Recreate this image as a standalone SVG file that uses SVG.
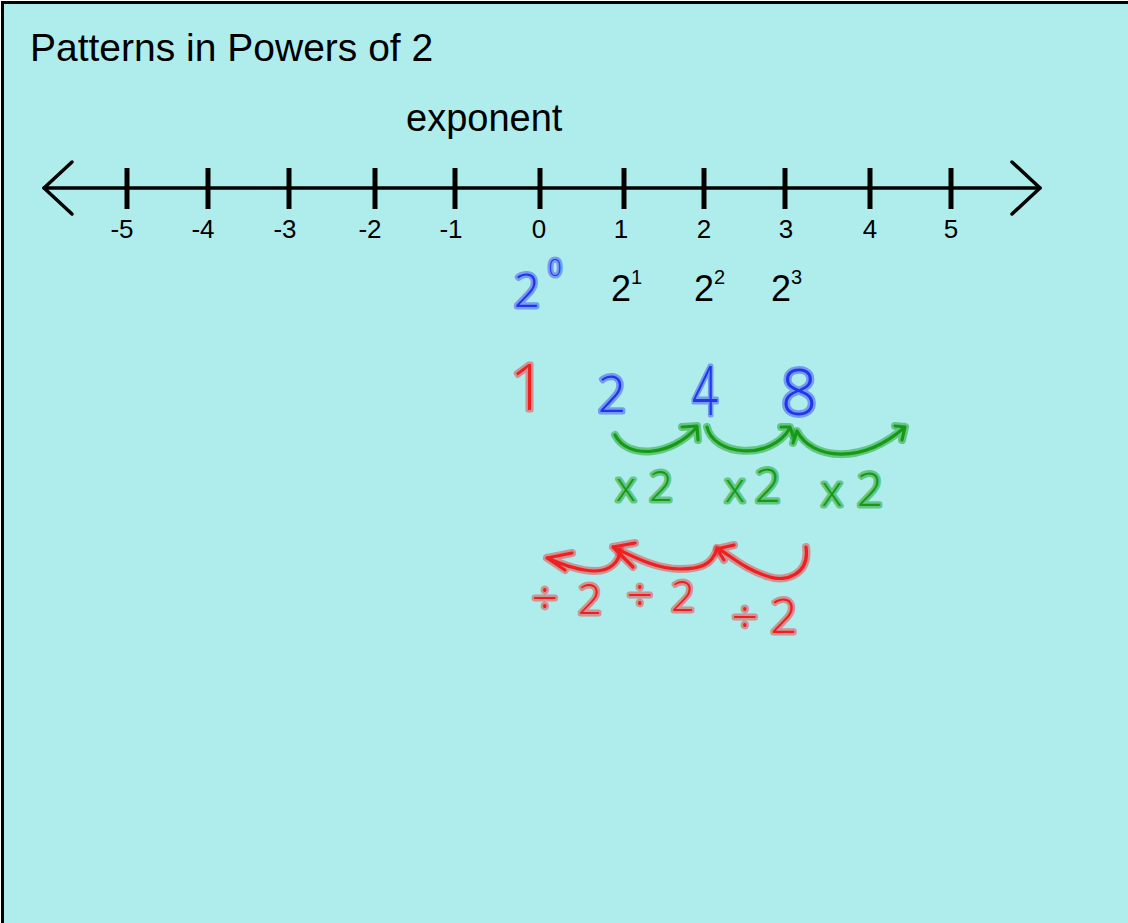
<svg xmlns="http://www.w3.org/2000/svg" width="1128" height="923" viewBox="0 0 1128 923">
<defs>
<style>
.txt{font-family:"Liberation Sans",Arial,sans-serif;fill:#000}
.axis{stroke:#000;stroke-width:3.5;fill:none;stroke-linecap:round;stroke-linejoin:round}
.tick{stroke:#000;stroke-width:5}
.lbl{font-family:"Liberation Sans",Arial,sans-serif;font-size:26px;text-anchor:middle;fill:#000}
.hw{font-family:"Open Sans","DejaVu Sans",sans-serif;font-weight:300;text-anchor:middle;paint-order:stroke;stroke-linejoin:round;stroke-linecap:round}
.hb{fill:#2433ee;stroke:rgba(40,60,240,0.45);stroke-width:5}
.hr{fill:#f01e1e;stroke:rgba(240,40,40,0.45);stroke-width:5}
.hg{fill:#169a16;stroke:rgba(25,160,25,0.5);stroke-width:5}
.halo{fill:none;stroke-width:8;stroke-linecap:round;stroke-linejoin:round}
.core{fill:none;stroke-width:3.2;stroke-linecap:round;stroke-linejoin:round}
.g .halo{stroke:rgba(25,160,25,0.5)}
.g .core{stroke:#169a16}
.r .halo{stroke:rgba(240,40,40,0.45)}
.r .core{stroke:#f01e1e}
</style>
<path id="ga1" d="M615,435 C628,460 672,456 697,427 M682,427 L697,426 L698,440"/>
<path id="ga2" d="M707,427 C713,455 770,462 790,428 M781,427 L790,427 L793,436"/>
<path id="ga3" d="M793,443 L797,431 C812,460 862,465 905,427 M895,426 L905,427 L902,440"/>
<path id="ra1" d="M806,547 C810,575 785,582 770,577 C745,570 730,555 717,548 M734,545 L717,549 L724,560"/>
<path id="ra2" d="M717,549 C712,565 700,569 680,569 C655,569 630,555 613,547 M635,543 L613,547 L633,567"/>
<path id="ra3" d="M620,549 C620,562 610,571 595,571 C578,571 560,563 547,558 M572,553 L547,558 L565,570"/>
</defs>
<rect x="2.5" y="2.5" width="1140" height="940" fill="#afeded" stroke="#000" stroke-width="3"/>

<g id="title"><text class="txt" x="30" y="61" font-size="39">Patterns in Powers of 2</text></g>
<g id="exponent-label"><text class="txt" x="406" y="131" font-size="38">exponent</text></g>

<g id="number-line">
<line class="axis" x1="44" y1="188" x2="1040" y2="188"/>
<polyline class="axis" points="72,162 44,188 72,214"/>
<polyline class="axis" points="1012,162 1040,188 1012,214"/>
<g class="tick">
<line x1="127" y1="168" x2="127" y2="209"/>
<line x1="208" y1="168" x2="208" y2="209"/>
<line x1="289" y1="168" x2="289" y2="209"/>
<line x1="375" y1="168" x2="375" y2="209"/>
<line x1="455" y1="168" x2="455" y2="209"/>
<line x1="540" y1="168" x2="540" y2="209"/>
<line x1="624" y1="168" x2="624" y2="209"/>
<line x1="704" y1="168" x2="704" y2="209"/>
<line x1="785" y1="168" x2="785" y2="209"/>
<line x1="870" y1="168" x2="870" y2="209"/>
<line x1="951" y1="168" x2="951" y2="209"/>
</g>
<text class="lbl" x="122" y="238">-5</text>
<text class="lbl" x="203" y="238">-4</text>
<text class="lbl" x="285" y="238">-3</text>
<text class="lbl" x="370" y="238">-2</text>
<text class="lbl" x="451" y="238">-1</text>
<text class="lbl" x="539" y="238">0</text>
<text class="lbl" x="621" y="238">1</text>
<text class="lbl" x="704" y="238">2</text>
<text class="lbl" x="786" y="238">3</text>
<text class="lbl" x="870" y="238">4</text>
<text class="lbl" x="951" y="238">5</text>
</g>

<g id="power-0"><text class="hw hb" x="527" y="307" font-size="46">2</text><text class="hw hb" x="555" y="276" font-size="23">0</text></g>
<g id="power-1"><text class="txt" x="611" y="301" font-size="36">2<tspan font-size="20" dy="-17">1</tspan></text></g>
<g id="power-2"><text class="txt" x="694" y="301" font-size="36">2<tspan font-size="20" dy="-17">2</tspan></text></g>
<g id="power-3"><text class="txt" x="771" y="301" font-size="36">2<tspan font-size="20" dy="-17">3</tspan></text></g>

<g id="value-1"><text class="hw hr" x="528" y="410" font-size="64">1</text></g>
<g id="value-2"><text class="hw hb" x="612" y="412" font-size="50">2</text></g>
<g id="value-4"><text class="hw hb" x="692" y="415" font-size="68" textLength="26" lengthAdjust="spacingAndGlyphs" style="text-anchor:start">4</text></g>
<g id="value-8"><text class="hw hb" x="799" y="415" font-size="64">8</text></g>

<g id="connectors">
<g class="g"><use href="#ga1" class="halo"/><use href="#ga1" class="core"/><use href="#ga2" class="halo"/><use href="#ga2" class="core"/><use href="#ga3" class="halo"/><use href="#ga3" class="core"/></g>
<g class="r"><use href="#ra1" class="halo"/><use href="#ra1" class="core"/><use href="#ra2" class="halo"/><use href="#ra2" class="core"/><use href="#ra3" class="halo"/><use href="#ra3" class="core"/></g>
</g>

<g id="times-labels">
<text class="hw hg" y="501"><tspan x="626" font-size="40">x</tspan><tspan x="661" font-size="42">2</tspan></text>
<text class="hw hg" y="502"><tspan x="735" font-size="40">x</tspan><tspan x="768" font-size="46">2</tspan></text>
<text class="hw hg" y="506"><tspan x="832" font-size="42">x</tspan><tspan x="870" font-size="46">2</tspan></text>
</g>
<g id="divide-labels">
<text class="hw hr" y="614"><tspan x="545" font-size="46">÷</tspan><tspan x="590" font-size="42">2</tspan></text>
<text class="hw hr" y="611"><tspan x="640" font-size="46">÷</tspan><tspan x="683" font-size="42">2</tspan></text>
<text class="hw hr" y="633"><tspan x="745" font-size="46">÷</tspan><tspan x="784" font-size="48">2</tspan></text>
</g>
</svg>
